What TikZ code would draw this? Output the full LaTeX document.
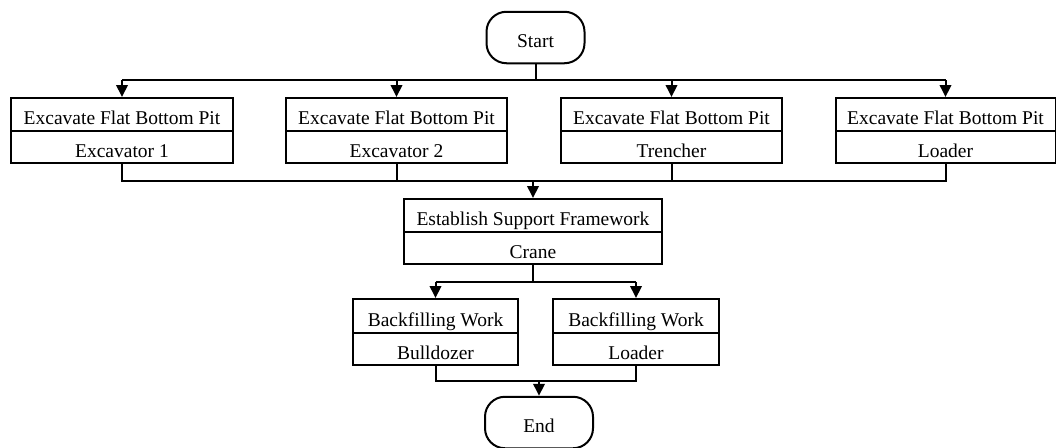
\documentclass[tikz,border=0pt]{standalone}
\usepackage{fontspec}
\setmainfont{Liberation Serif}
\usetikzlibrary{arrows.meta}
\begin{document}
\begin{tikzpicture}[x=1pt,y=-1pt,line width=2pt,
  cell/.style={draw,rectangle,inner sep=0pt,text height=20.5pt,text depth=0pt,font=\fontsize{19.5}{22}\selectfont},
  term/.style={draw,rectangle,rounded corners=20pt,inner sep=0pt,minimum width=98pt,minimum height=51.5pt,text height=20pt,text depth=0pt,font=\fontsize{19.5}{22}\selectfont},
  arr/.style={-{Triangle[length=12pt,width=11.5pt]}}]
\useasboundingbox (0,0) rectangle (1056,447);
% terminals
\node[term] (start) at (535.5,37.5) {Start};
\node[term, minimum width=108pt] (end) at (539,422.5) {End};
% row 1
\node[cell,minimum width=222pt,minimum height=33pt] (t1) at (122,114.5) {Excavate Flat Bottom Pit};
\node[cell,minimum width=222pt,minimum height=32.3pt] (b1) at (122,147.2) {Excavator 1};
\node[cell,minimum width=221pt,minimum height=33pt] (t2) at (396.5,114.5) {Excavate Flat Bottom Pit};
\node[cell,minimum width=221pt,minimum height=32.3pt] (b2) at (396.5,147.2) {Excavator 2};
\node[cell,minimum width=221pt,minimum height=33pt] (t3) at (671.5,114.5) {Excavate Flat Bottom Pit};
\node[cell,minimum width=221pt,minimum height=32.3pt] (b3) at (671.5,147.2) {Trencher};
\node[cell,minimum width=220pt,minimum height=33pt] (t4) at (945.5,114.5) {Excavate Flat Bottom Pit};
\node[cell,minimum width=220pt,minimum height=32.3pt] (b4) at (945.5,147.2) {Loader};
% row 2
\node[cell,minimum width=258pt,minimum height=33pt] (t5) at (533,215.5) {Establish Support Framework};
\node[cell,minimum width=258pt,minimum height=32pt] (b5) at (533,248) {Crane};
% row 3
\node[cell,minimum width=165pt,minimum height=34pt] (t6) at (435.5,316) {Backfilling Work};
\node[cell,minimum width=165pt,minimum height=32pt] (b6) at (435.5,349) {Bulldozer};
\node[cell,minimum width=166pt,minimum height=34pt] (t7) at (636,316) {Backfilling Work};
\node[cell,minimum width=166pt,minimum height=32pt] (b7) at (636,349) {Loader};
% junction coordinates
\coordinate (s1) at (535.5,80);
\coordinate (m1) at (533,180.7);
\coordinate (s2) at (533,282);
\coordinate (m2) at (539,381);
% start split
\draw (start.south) -- (s1);
\draw (t1.north |- s1) -- (t4.north |- s1);
\draw[arr] (t1.north |- s1) -- (t1.north);
\draw[arr] (t2.north |- s1) -- (t2.north);
\draw[arr] (t3.north |- s1) -- (t3.north);
\draw[arr] (t4.north |- s1) -- (t4.north);
% merge row 1
\draw (b1.south) -- (b1.south |- m1) -- (b4.south |- m1) -- (b4.south);
\draw (b2.south) -- (b2.south |- m1);
\draw (b3.south) -- (b3.south |- m1);
\draw[arr] (m1) -- (t5.north);
% split row 2
\draw (b5.south) -- (s2);
\draw (t6.north |- s2) -- (t7.north |- s2);
\draw[arr] (t6.north |- s2) -- (t6.north);
\draw[arr] (t7.north |- s2) -- (t7.north);
% merge row 3
\draw (b6.south) -- (b6.south |- m2) -- (b7.south |- m2) -- (b7.south);
\draw[arr] (m2) -- (end.north);
\end{tikzpicture}
\end{document}
